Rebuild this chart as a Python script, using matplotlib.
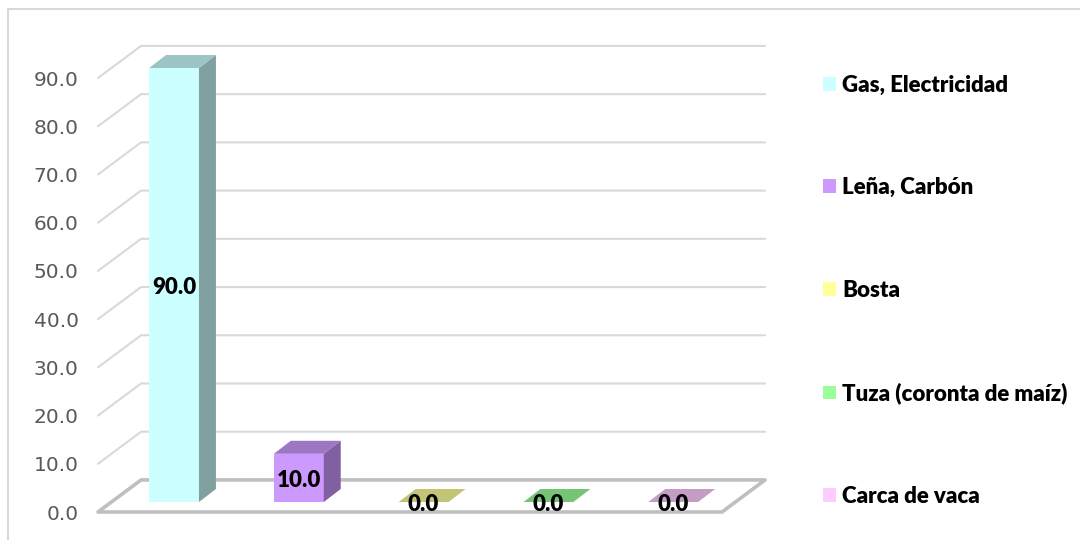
import numpy as np
import matplotlib
matplotlib.use("Agg")
import matplotlib.pyplot as plt
from matplotlib.patches import Patch, Polygon, Rectangle
from matplotlib.colors import to_rgb

categories = ["Gas, Electricidad", "Leña, Carbón", "Bosta", "Tuza (coronta de maíz)", "Carca de vaca"]
values = [90.0, 10.0, 0.0, 0.0, 0.0]
colors = ["#ccffff", "#cc99ff", "#ffff99", "#99ff99", "#ffccff"]
ticks = np.arange(0, 100, 10)

# fake 3d: offsets of the back wall and of the bars, in data units
wall_dx, wall_dy = 0.345, 6.65
bar_dx, bar_dy = 0.136, 2.7
front_dx, front_dy = 0.109, 2.07
bar_w = 0.40


def shade(c, k):
    return tuple(v * k for v in to_rgb(c))


fig = plt.figure(figsize=(10.8, 5.4), dpi=100)
fig.patches.append(Rectangle((8 / 1080, -0.02), 1.1, (540 - 9) / 540 + 0.02, transform=fig.transFigure,
                             fill=False, ec="#d9d9d9", lw=1.5))
ax = fig.add_axes([98 / 1080, 28 / 540, 624 / 1080, 434 / 540])
ax.set_xlim(0, 5)
ax.set_ylim(0, 90)
for s in ax.spines.values():
    s.set_visible(False)
ax.set_xticks([])
ax.set_yticks(ticks)
ax.set_yticklabels([f"{t:.1f}" for t in ticks], fontsize=14.5, color="#595959", family="DejaVu Sans")
ax.tick_params(axis="y", length=0, pad=14)

# walls
for t in ticks[1:]:
    ax.plot([0, wall_dx, 5 + wall_dx], [t, t + wall_dy, t + wall_dy], color="#d9d9d9", lw=1.5,
            clip_on=False, zorder=1, solid_capstyle="round")
ax.add_patch(Polygon([(0, 0), (5, 0), (5 + wall_dx, wall_dy), (wall_dx, wall_dy)], closed=True, fill=False,
                     ec="#bfbfbf", lw=2.6, clip_on=False, zorder=1, joinstyle="round"))

# bars
for i, (v, c) in enumerate(zip(values, colors)):
    x0 = i + 0.5 - bar_w / 2 + front_dx
    x1 = x0 + bar_w
    y0 = front_dy
    y1 = y0 + v
    if v > 0:
        ax.add_patch(Polygon([(x0, y0), (x1, y0), (x1, y1), (x0, y1)], fc=c, ec="none", zorder=3, clip_on=False))
        ax.add_patch(Polygon([(x1, y0), (x1 + bar_dx, y0 + bar_dy), (x1 + bar_dx, y1 + bar_dy), (x1, y1)],
                             fc=shade(c, 0.63), ec="none", zorder=3, clip_on=False))
    ax.add_patch(Polygon([(x0, y1), (x1, y1), (x1 + bar_dx, y1 + bar_dy), (x0 + bar_dx, y1 + bar_dy)],
                         fc=shade(c, 0.77), ec="none", zorder=3, clip_on=False))
    ax.text((x0 + x1) / 2, y0 + v / 2 - 0.6, f"{v:.1f}", ha="center", va="center",
            fontsize=16, fontweight="heavy", family="Lato", color="black", zorder=5, clip_on=False)

handles = [Patch(fc=c, ec="none") for c in colors]
fig.legend(handles, categories, loc="upper left", bbox_to_anchor=(823 / 1080, 1 - 74.5 / 540), frameon=False,
           prop={"family": "Lato", "weight": "heavy", "size": 16}, handlelength=0.585, handleheight=0.585,
           handletextpad=0.27, labelspacing=3.675, borderpad=0, borderaxespad=0)

fig.savefig("out.png", dpi=100)
